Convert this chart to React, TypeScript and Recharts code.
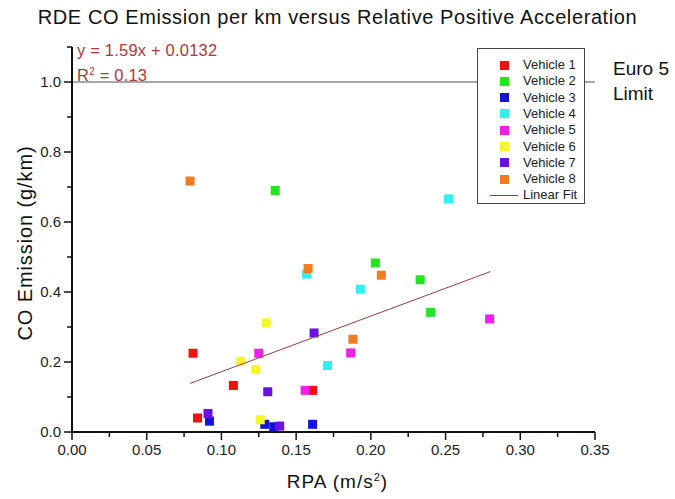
import React from 'react';
import {
  ScatterChart, Scatter, XAxis, YAxis, ReferenceLine, Legend,
} from 'recharts';

// RPA (m/s²) vs CO emission (g/km), one list of [rpa, co] pairs per vehicle
const vehicle1 = [[0.081, 0.225], [0.108, 0.133], [0.084, 0.04], [0.161, 0.119]];
const vehicle2 = [[0.136, 0.69], [0.203, 0.483], [0.233, 0.435], [0.24, 0.342]];
const vehicle3 = [[0.092, 0.031], [0.129, 0.022], [0.135, 0.015], [0.161, 0.022]];
const vehicle4 = [[0.157, 0.451], [0.193, 0.408], [0.171, 0.19], [0.252, 0.666]];
const vehicle5 = [[0.125, 0.225], [0.156, 0.119], [0.1865, 0.226], [0.2795, 0.323]];
const vehicle6 = [[0.113, 0.202], [0.123, 0.179], [0.13, 0.312], [0.126, 0.035]];
const vehicle7 = [[0.091, 0.053], [0.131, 0.115], [0.139, 0.017], [0.162, 0.283]];
const vehicle8 = [[0.079, 0.717], [0.158, 0.467], [0.188, 0.265], [0.207, 0.448]];

const vehicles = [vehicle1, vehicle2, vehicle3, vehicle4, vehicle5, vehicle6, vehicle7, vehicle8];
const vehicleNames = ['Vehicle 1', 'Vehicle 2', 'Vehicle 3', 'Vehicle 4', 'Vehicle 5', 'Vehicle 6', 'Vehicle 7', 'Vehicle 8'];
const vehicleColors = ['#f01010', '#22e622', '#1414d8', '#33eef0', '#f020e8', '#f6f626', '#6a12e6', '#f27c1c'];

// linear fit y = 1.59x + 0.0132, drawn over the RPA range of the data
const fitSlope = 1.59;
const fitIntercept = 0.0132;
const fitRange = [0.079, 0.28];

const euro5Limit = 1.0;

const xMajorTicks = [0, 0.05, 0.1, 0.15, 0.2, 0.25, 0.3, 0.35];
const xMinorTicks = [0.025, 0.075, 0.125, 0.175, 0.225, 0.275, 0.325];
const yMajorTicks = [0, 0.2, 0.4, 0.6, 0.8, 1.0];
const yMinorTicks = [0.1, 0.3, 0.5, 0.7, 0.9, 1.1];

const FONT = 'Arial, "Liberation Sans", sans-serif';

const toPoints = (pairs: number[][]) => pairs.map(([rpa, co]) => ({ rpa, co }));
const fitData = fitRange.map((rpa) => ({ rpa, co: fitSlope * rpa + fitIntercept }));

const isMajor = (list: number[], v: number) => list.some((t) => Math.abs(t - v) < 1e-6);

const XTick = (props: any) => {
  const { x, y, payload } = props;
  const major = isMajor(xMajorTicks, payload.value);
  return (
    <g>
      <line x1={x} x2={x} y1={y} y2={y + (major ? 8 : 5)} stroke="#111" strokeWidth={1.5} />
      {major && (
        <text x={x} y={y + 23} textAnchor="middle" fontSize={15} fill="#222" fontFamily={FONT}>
          {payload.value.toFixed(2)}
        </text>
      )}
    </g>
  );
};

const YTick = (props: any) => {
  const { x, y, payload } = props;
  const major = isMajor(yMajorTicks, payload.value);
  return (
    <g>
      <line x1={x} x2={x - (major ? 8 : 5)} y1={y} y2={y} stroke="#111" strokeWidth={1.5} />
      {major && (
        <text x={x - 11} y={y + 5} textAnchor="end" fontSize={15} fill="#222" fontFamily={FONT}>
          {payload.value.toFixed(1)}
        </text>
      )}
    </g>
  );
};

const squareShape = (color: string) => (props: any) => (
  <rect x={props.cx - 4.5} y={props.cy - 4.5} width={9} height={9} fill={color} />
);

// markers first, the fit line last
const LegendBox = (props: any) => {
  const entries = [...(props.payload || [])].sort(
    (a: any, b: any) => (a.type === 'line' ? 1 : 0) - (b.type === 'line' ? 1 : 0),
  );
  return (
    <div style={{ position: 'relative', width: '100%', height: '100%', fontFamily: FONT }}>
      {entries.map((entry: any, i: number) => (
        <div
          key={entry.value}
          style={{ position: 'absolute', top: 8 + i * 16.3, left: 0, height: 16, width: '100%' }}
        >
          {entry.type === 'line' ? (
            <div style={{ position: 'absolute', left: 12, top: 8, width: 28, height: 1, background: '#9c3c3c' }} />
          ) : (
            <div style={{ position: 'absolute', left: 22, top: 3.5, width: 9, height: 9, background: entry.color }} />
          )}
          <span style={{ position: 'absolute', left: 45, top: 1, fontSize: 13, color: '#222', lineHeight: '14px' }}>
            {entry.value}
          </span>
        </div>
      ))}
    </div>
  );
};

export default function App() {
  return (
    <div style={{ position: 'absolute', left: 0, top: 0, width: 675, height: 499, background: '#fff', fontFamily: FONT }}>
      <ScatterChart width={675} height={499} margin={{ top: 47, right: 80, bottom: 37, left: 12 }}>
        <XAxis
          type="number"
          dataKey="rpa"
          domain={[0, 0.35]}
          ticks={[...xMajorTicks, ...xMinorTicks]}
          tick={<XTick />}
          tickLine={false}
          tickSize={0}
          tickMargin={0}
          axisLine={{ stroke: '#111', strokeWidth: 2 }}
          height={30}
          interval={0}
          allowDataOverflow
        />
        <YAxis
          type="number"
          dataKey="co"
          domain={[0, 1.1]}
          ticks={[...yMajorTicks, ...yMinorTicks]}
          tick={<YTick />}
          tickLine={false}
          tickSize={0}
          tickMargin={0}
          axisLine={{ stroke: '#111', strokeWidth: 2 }}
          width={60}
          interval={0}
          allowDataOverflow
        />
        <ReferenceLine y={euro5Limit} stroke="#8a8a8a" strokeWidth={1.5} />
        {vehicles.map((pairs, i) => (
          <Scatter
            key={vehicleNames[i]}
            name={vehicleNames[i]}
            data={toPoints(pairs)}
            fill={vehicleColors[i]}
            legendType="square"
            shape={squareShape(vehicleColors[i])}
            isAnimationActive={false}
          />
        ))}
        <Scatter
          name="Linear Fit"
          data={fitData}
          fill="#9c3c3c"
          legendType="line"
          line={{ stroke: '#9c3c3c', strokeWidth: 1 }}
          shape={() => <g />}
          isAnimationActive={false}
        />
        <Legend
          layout="vertical"
          align="center"
          verticalAlign="middle"
          content={<LegendBox />}
          wrapperStyle={{
            left: 477, top: 48, width: 108, height: 156,
            border: '1px solid #444', background: '#fff', boxSizing: 'border-box',
          }}
        />
      </ScatterChart>

      <div style={{ position: 'absolute', left: 0, width: 675, top: 7, textAlign: 'center', fontSize: 20, letterSpacing: 0.6, color: '#111', lineHeight: 1 }}>
        RDE CO Emission per km versus Relative Positive Acceleration
      </div>

      <div style={{ position: 'absolute', left: 77, top: 39, fontSize: 16.5, letterSpacing: 0.2, color: '#b03838', lineHeight: '22px' }}>
        <div>y = 1.59x + 0.0132</div>
        <div>R<span style={{ fontSize: 10, verticalAlign: 6 }}>2</span> = 0.13</div>
      </div>

      <div style={{ position: 'absolute', left: 613, top: 56, fontSize: 19, color: '#111', lineHeight: '25px' }}>
        <div>Euro 5</div>
        <div>Limit</div>
      </div>

      <div
        style={{
          position: 'absolute', left: 25, top: 243, fontSize: 20, letterSpacing: 0.9, color: '#111', whiteSpace: 'nowrap',
          transform: 'translate(-50%, -50%) rotate(-90deg)', lineHeight: 1,
        }}
      >
        CO Emission (g/km)
      </div>

      <div style={{ position: 'absolute', left: 0, width: 675, top: 472, paddingLeft: 0, textAlign: 'center', fontSize: 19, letterSpacing: 1, color: '#111', lineHeight: 1 }}>
        RPA (m/s<span style={{ fontSize: 11, verticalAlign: 7 }}>2</span>)
      </div>
    </div>
  );
}
